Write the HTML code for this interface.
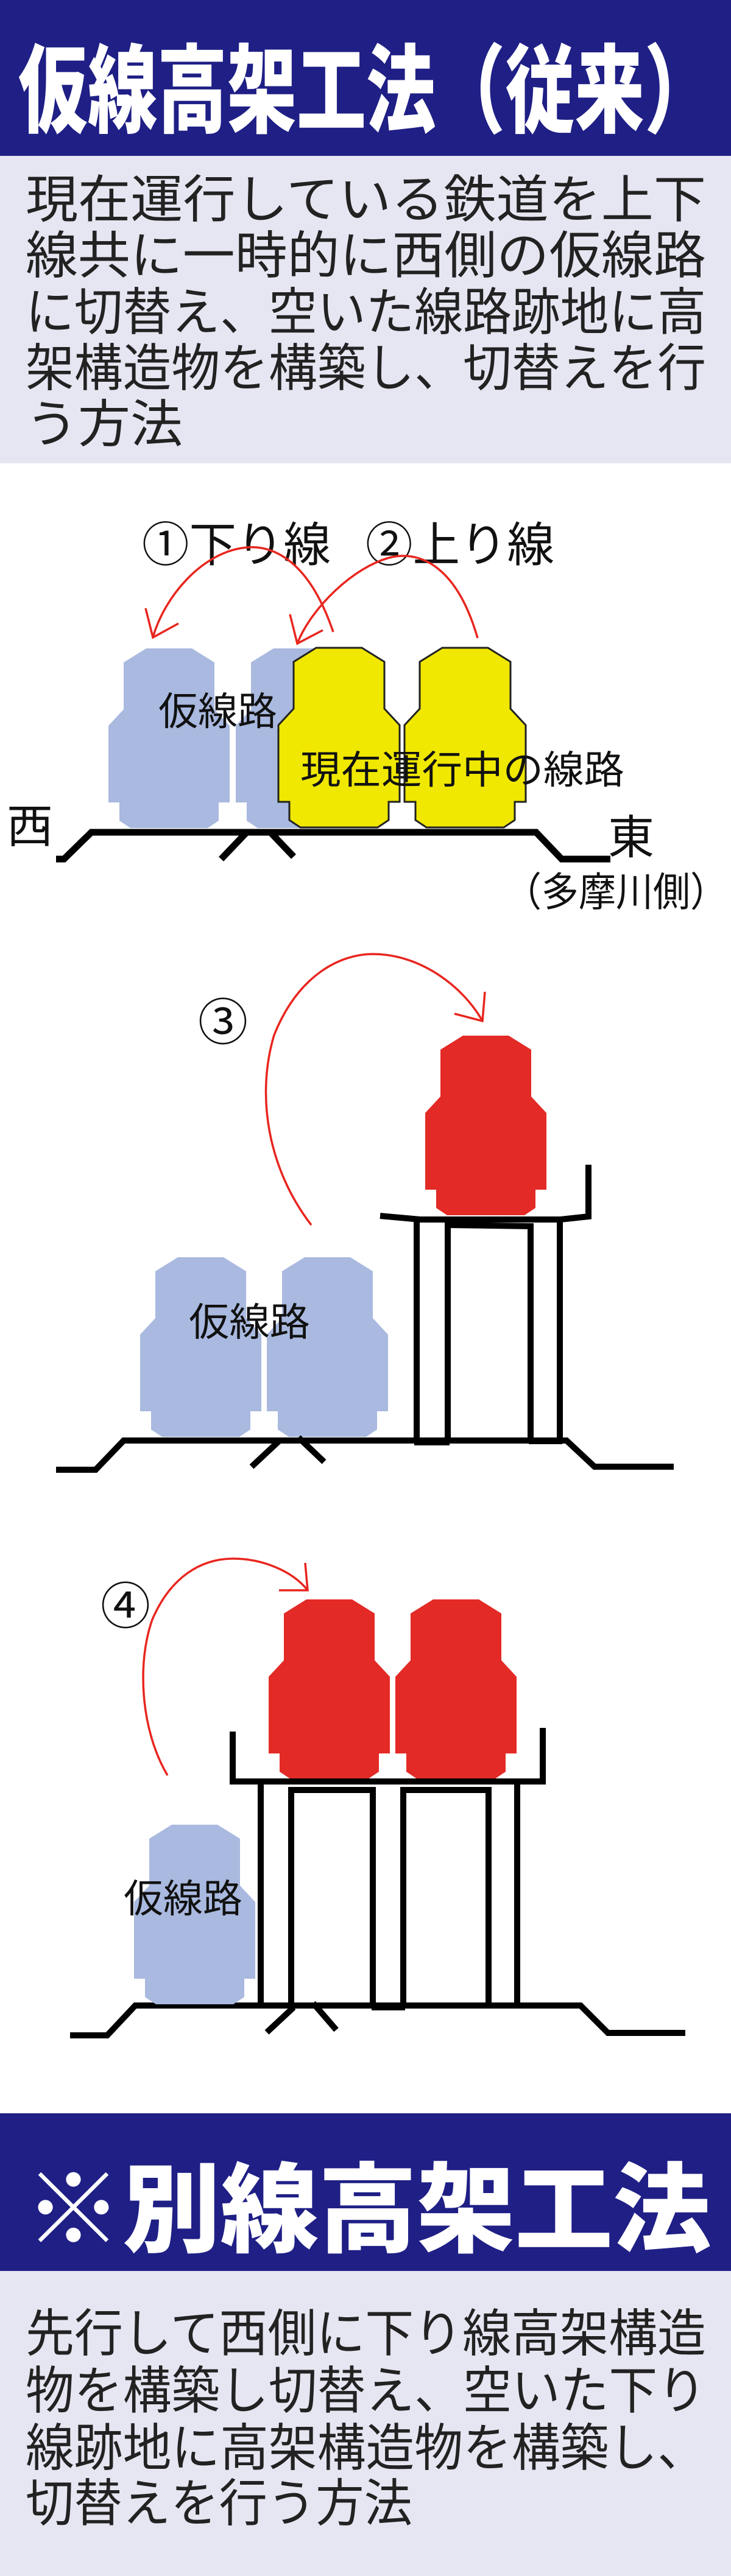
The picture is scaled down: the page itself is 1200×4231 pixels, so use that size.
<!DOCTYPE html>
<html><head><meta charset="utf-8"><style>
html,body{margin:0;padding:0;background:#fff}
svg{display:block}
text{font-family:"Liberation Sans","Noto Sans CJK JP",sans-serif}
</style></head><body>
<svg width="1200" height="4231" viewBox="0 0 1200 4231" xmlns="http://www.w3.org/2000/svg">
<defs>
<polygon id="tr" points="62,0 137,0 174,23 174,100 199,127 199,253 181,253 181,283 163,295 36,295 18,283 18,253 0,253 0,127 25,100 25,23"/>
</defs>
<!-- header 1 -->
<rect x="0" y="0" width="1200" height="256" fill="#1f1f86"/>
<text x="30" y="205" font-size="158" font-weight="900" fill="#fff" textLength="1142" lengthAdjust="spacingAndGlyphs">仮線高架工法（従来）</text>
<rect x="0" y="256" width="1200" height="505" fill="#e6e6f2"/>
<g font-size="84" fill="#222">
<text x="42" y="357" textLength="1117" lengthAdjust="spacingAndGlyphs">現在運行している鉄道を上下</text>
<text x="42" y="449" textLength="1117" lengthAdjust="spacingAndGlyphs">線共に一時的に西側の仮線路</text>
<text x="42" y="542" textLength="1117" lengthAdjust="spacingAndGlyphs">に切替え、空いた線路跡地に高</text>
<text x="42" y="634" textLength="1117" lengthAdjust="spacingAndGlyphs">架構造物を構築し、切替えを行</text>
<text x="42" y="726" textLength="258" lengthAdjust="spacingAndGlyphs">う方法</text>
</g>

<!-- diagram 1 -->
<g font-size="78" fill="#111">
<text x="233" y="922" textLength="310" lengthAdjust="spacingAndGlyphs">①下り線</text>
<text x="600" y="922" textLength="310" lengthAdjust="spacingAndGlyphs">②上り線</text>
</g>
<use href="#tr" x="178" y="1065" fill="#a9b9df"/>
<use href="#tr" x="387" y="1065" fill="#a9b9df"/>
<use href="#tr" x="457" y="1064" fill="#f0e800" stroke="#222" stroke-width="3"/>
<use href="#tr" x="664" y="1064" fill="#f0e800" stroke="#222" stroke-width="3"/>
<g fill="none" stroke="#e8261f" stroke-width="3.5">
<path d="M547,1038 C500,900 430,895 398,900 C330,910 270,980 251,1047"/>
<path d="M239,999 L251,1047 L293,1024"/>
<path d="M784,1048 C750,930 690,905 643,915 C580,930 510,1000 488,1057"/>
<path d="M476,1009 L488,1057 L530,1035"/>
</g>
<g font-size="64" fill="#111">
<text x="260" y="1191" textLength="195" lengthAdjust="spacingAndGlyphs">仮線路</text>
<text x="493" y="1287" textLength="532" lengthAdjust="spacingAndGlyphs">現在運行中の線路</text>
</g>
<g fill="none" stroke="#000" stroke-width="11">
<polyline points="92,1411 105,1411 150,1367 880,1367 922,1411 1002,1411"/>
<polyline points="363,1411 405,1367"/>
<polyline points="442,1365 482,1407"/>
</g>
<text x="11" y="1384" font-size="76" fill="#111">西</text>
<text x="998" y="1402" font-size="76" fill="#111">東</text>
<text x="828" y="1488" font-size="66" fill="#111" textLength="366" lengthAdjust="spacingAndGlyphs">（多摩川側）</text>

<!-- diagram 3 -->
<text x="325" y="1708" font-size="82" fill="#111">③</text>
<g fill="none" stroke="#e8261f" stroke-width="3.5">
<path d="M511,2012 C440,1920 420,1800 450,1700 C490,1600 560,1567 612,1567 C690,1567 760,1620 792,1677"/>
<path d="M796,1629 L792,1677 L746,1665"/>
</g>
<use href="#tr" x="698" y="1701" fill="#e32a26"/>
<use href="#tr" x="230" y="2065" fill="#a9b9df"/>
<use href="#tr" x="438" y="2065" fill="#a9b9df"/>
<text x="310" y="2194" font-size="64" fill="#111" textLength="199" lengthAdjust="spacingAndGlyphs">仮線路</text>
<g fill="none" stroke="#000" stroke-width="10">
<polyline points="624,1997 690,2003 920,2003 966,1998 966,1913"/>
<line x1="684" y1="2003" x2="684" y2="2368"/>
<line x1="919" y1="2003" x2="919" y2="2368"/>
<polyline points="735,2368 735,2012 871,2014 871,2368"/>
<polyline points="92,2414 157,2414 203,2366 930,2366 976,2409 1106,2409"/>
<line x1="413" y1="2409" x2="459" y2="2366"/>
<line x1="490" y1="2361" x2="532" y2="2401"/>
</g>
<rect x="680" y="2362" width="58" height="12" fill="#000"/>
<rect x="868" y="2362" width="55" height="10" fill="#000"/>

<!-- diagram 4 -->
<text x="165" y="2667" font-size="82" fill="#111">④</text>
<g fill="none" stroke="#e8261f" stroke-width="3.5">
<path d="M275,2916 C230,2840 225,2730 250,2660 C280,2590 330,2560 383,2560 C430,2560 480,2580 505,2612"/>
<path d="M501,2567 L505,2612 L458,2612"/>
</g>
<use href="#tr" x="441" y="2627" fill="#e32a26"/>
<use href="#tr" x="649" y="2627" fill="#e32a26"/>
<g fill="none" stroke="#000" stroke-width="10">
<polyline points="382,2844 382,2926 891,2926 891,2838"/>
<line x1="428" y1="2926" x2="428" y2="3294"/>
<line x1="849" y1="2926" x2="849" y2="3294"/>
<polyline points="478,3294 478,2940 612,2940 612,3294"/>
<polyline points="662,3294 662,2940 802,2940 802,3294"/>
<polyline points="115,3343 176,3343 222,3294 953,3294 998,3339 1125,3339"/>
<line x1="438" y1="3338" x2="482" y2="3297"/>
<line x1="514" y1="3290" x2="552" y2="3334"/>
</g>
<rect x="610" y="3290" width="55" height="12" fill="#000"/>
<use href="#tr" x="220" y="2997" fill="#a9b9df"/>
<text x="203" y="3141" font-size="64" fill="#111" textLength="195" lengthAdjust="spacingAndGlyphs">仮線路</text>

<!-- header 2 -->
<rect x="0" y="3471" width="1200" height="259" fill="#1f1f86"/>
<text x="40" y="3686" font-size="160" font-weight="900" fill="#fff" textLength="1127" lengthAdjust="spacingAndGlyphs">※別線高架工法</text>
<rect x="0" y="3730" width="1200" height="501" fill="#e6e6f2"/>
<g font-size="84" fill="#222">
<text x="42" y="3862" textLength="1117" lengthAdjust="spacingAndGlyphs">先行して西側に下り線高架構造</text>
<text x="42" y="3956" textLength="1117" lengthAdjust="spacingAndGlyphs">物を構築し切替え、空いた下り</text>
<text x="42" y="4050" textLength="1117" lengthAdjust="spacingAndGlyphs">線跡地に高架構造物を構築し、</text>
<text x="42" y="4141" textLength="635" lengthAdjust="spacingAndGlyphs">切替えを行う方法</text>
</g>
</svg>
</body></html>
